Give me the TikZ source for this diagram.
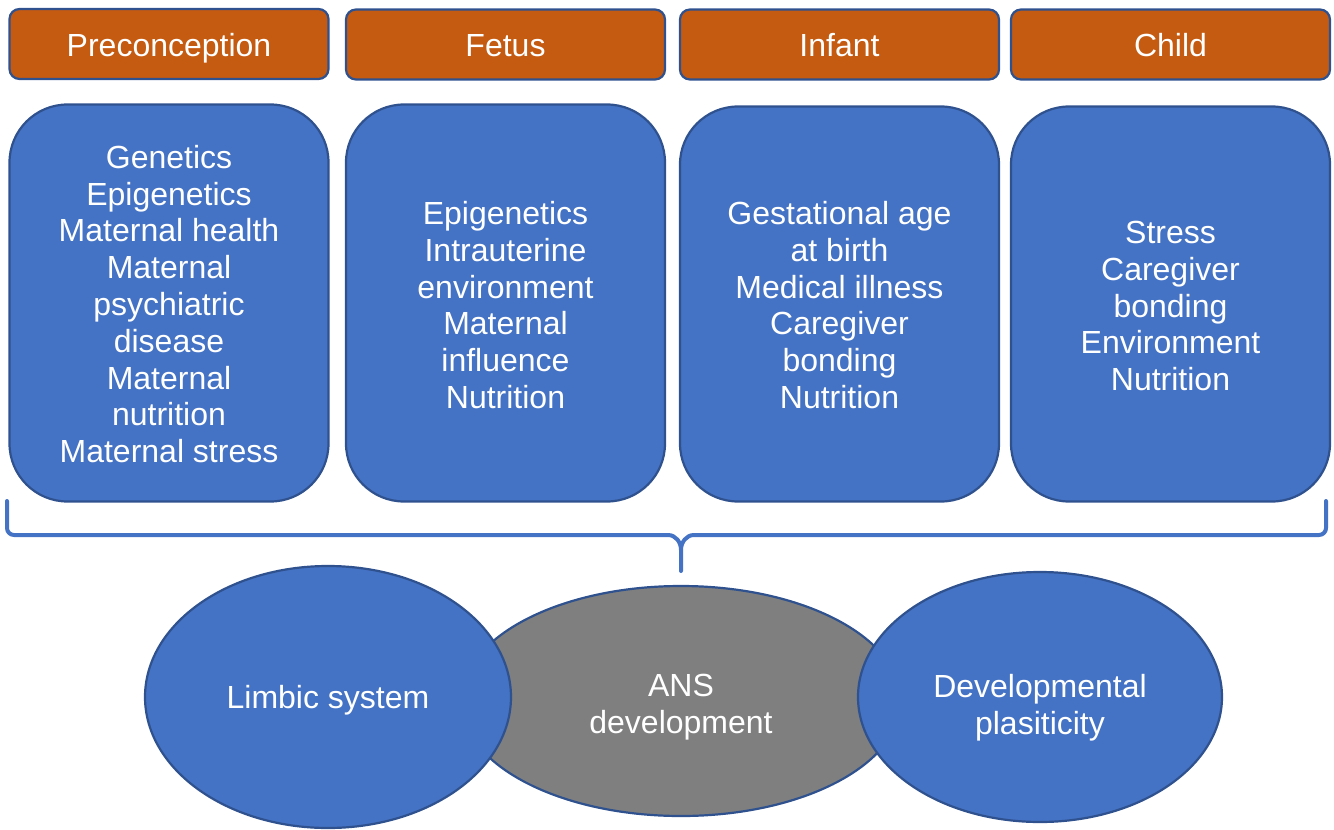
\documentclass[tikz,border=0pt]{standalone}
\usepackage{fontspec}
\setmainfont{Liberation Sans}
\definecolor{hdr}{HTML}{C55A11}
\definecolor{bluefill}{HTML}{4472C4}
\definecolor{blueline}{HTML}{2F528F}
\definecolor{grayfill}{HTML}{7F7F7F}
\begin{document}
\begin{tikzpicture}[x=1pt,y=-1pt,
  txt/.style={text=white,font=\fontsize{32}{36.8}\selectfont,align=center},
  hdrbox/.style={txt,draw=blueline,line width=2.2pt,fill=hdr,rounded corners=10pt,
    minimum width=319pt,minimum height=70pt,inner sep=0pt,text height=27pt,text depth=3pt},
  factorbox/.style={txt,draw=blueline,line width=2.2pt,fill=bluefill,rounded corners=58pt,
    minimum width=319pt,minimum height=397pt,inner sep=0pt},
  blob/.style={txt,draw=blueline,line width=2.2pt,fill=bluefill},
  brace/.style={draw=bluefill,line width=4pt,line cap=round,line join=round}]
\useasboundingbox (0,0) rectangle (1334,830);

% stage headers
\node[hdrbox] (h1) at (169,44) {Preconception};
\node[hdrbox] (h2) at (505.5,44.5) {Fetus};
\node[hdrbox] (h3) at (839.5,44.5) {Infant};
\node[hdrbox] (h4) at (1170.5,44.5) {Child};

% factor boxes
\node[factorbox] (b1) at (169,303) {};
\node[txt] at (169,304) {Genetics\\Epigenetics\\Maternal health\\Maternal\\psychiatric\\disease\\Maternal\\nutrition\\Maternal stress};
\node[factorbox] (b2) at (505.5,303) {};
\node[txt] at (505.5,305) {Epigenetics\\Intrauterine\\environment\\Maternal\\influence\\Nutrition};
\node[factorbox,minimum height=395pt] (b3) at (839.5,304) {};
\node[txt] at (839.5,305) {Gestational age\\at birth\\Medical illness\\Caregiver\\bonding\\Nutrition};
\node[factorbox,minimum height=395pt] (b4) at (1170.5,304) {};
\node[txt] at (1170.5,306) {Stress\\Caregiver\\bonding\\Environment\\Nutrition};

% brace gathering all stages
\coordinate (bl) at (7,501);
\coordinate (br) at (1326,501);
\coordinate (tip) at (681,571);
\draw[brace] (bl) -- (7,528) to[out=-90,in=180] (14,535) -- (668,535)
  to[out=0,in=90] (681,550) -- (tip);
\draw[brace] (br) -- (1326,528) to[out=-90,in=0] (1319,535) -- (694,535)
  to[out=180,in=90] (681,550);

% outcome ellipses
\fill[grayfill,draw=blueline,line width=2.2pt] (681,701) ellipse[x radius=220,y radius=115];
\node[txt] (ans) at (681,707) {ANS\\development};
\draw[blob] (328,697) ellipse[x radius=183,y radius=131];
\node[txt] (limb) at (328,700) {Limbic system};
\draw[blob] (1040,697) ellipse[x radius=182,y radius=125];
\node[txt] (dev) at (1040,708) {Developmental\\plasiticity};
\end{tikzpicture}
\end{document}
